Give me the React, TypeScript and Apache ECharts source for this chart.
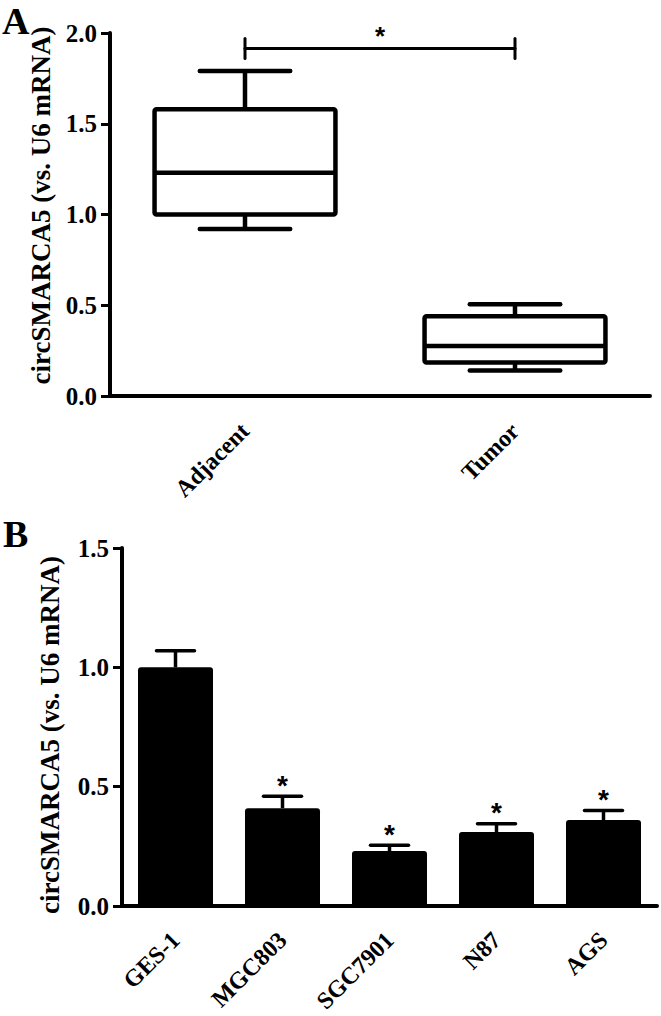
import React, { useEffect, useRef } from "react";
import * as echarts from "echarts";

// ---- Panel A data (box plot) ----
const boxCategories = ["Adjacent", "Tumor"];
const boxMin = [0.92, 0.14];
const boxQ1 = [1.0, 0.185];
const boxMedian = [1.23, 0.275];
const boxQ3 = [1.58, 0.44];
const boxMax = [1.79, 0.505];
const sigPair = [0, 1];
const sigLevel = 1.915;
const sigCapHalf = 0.055;
const yTicksA = { min: 0, max: 2, interval: 0.5 };

// ---- Panel B data (bar chart) ----
const cellLines = ["GES-1", "MGC803", "SGC7901", "N87", "AGS"];
const meanExpr = [1.0, 0.41, 0.23, 0.31, 0.36];
const errSem = [0.07, 0.05, 0.025, 0.035, 0.04];
const significant = [false, true, true, true, true];
const yTicksB = { min: 0, max: 1.5, interval: 0.5 };

const yTitle = "circSMARCA5 (vs. U6 mRNA)";
const SERIF = "Liberation Serif";

export default function App() {
  const ref = useRef<HTMLDivElement>(null);

  useEffect(() => {
    if (!ref.current) return;
    const chart = echarts.init(ref.current, null, { renderer: "svg" });

    const axisLineStyle = { color: "#000", width: 4 };
    const labelStyle = {
      color: "#000",
      fontFamily: SERIF,
      fontWeight: "bold" as const,
      fontSize: 24,
    };

    const boxData = boxCategories.map((_, i) => [
      i,
      boxMin[i],
      boxQ1[i],
      boxMedian[i],
      boxQ3[i],
      boxMax[i],
    ]);
    const errData = cellLines.map((_, i) => [
      i,
      meanExpr[i],
      meanExpr[i] + errSem[i],
      significant[i] ? 1 : 0,
    ]);

    const option: any = {
      animation: false,
      backgroundColor: "#fff",
      title: [
        {
          text: "A",
          left: 2,
          top: 2,
          padding: 0,
          textStyle: { fontFamily: SERIF, fontWeight: "bold", fontSize: 38, color: "#000" },
        },
        {
          text: "B",
          left: 3,
          top: 515,
          padding: 0,
          textStyle: { fontFamily: SERIF, fontWeight: "bold", fontSize: 38, color: "#000" },
        },
      ],
      grid: [
        { left: 110, top: 33, width: 540, height: 363 },
        { left: 122, top: 548, width: 535, height: 358 },
      ],
      xAxis: [
        {
          type: "category",
          gridIndex: 0,
          data: boxCategories,
          axisLine: { lineStyle: axisLineStyle },
          axisTick: { alignWithLabel: true, length: 10, lineStyle: { width: 3, color: "#000" } },
          axisLabel: { ...labelStyle, rotate: 45, interval: 0, margin: 31 },
        },
        {
          type: "category",
          gridIndex: 1,
          data: cellLines,
          axisLine: { lineStyle: axisLineStyle },
          axisTick: { alignWithLabel: true, length: 10, lineStyle: { width: 3, color: "#000" } },
          axisLabel: { ...labelStyle, rotate: 45, interval: 0, margin: 30 },
        },
      ],
      yAxis: [
        {
          type: "value",
          gridIndex: 0,
          ...yTicksA,
          name: yTitle,
          nameLocation: "middle",
          nameGap: 54,
          nameTextStyle: { ...labelStyle, fontSize: 27, padding: [0, 0, 0, 18] },
          axisLine: { show: true, lineStyle: axisLineStyle },
          axisTick: { show: true, length: 9, lineStyle: { width: 3, color: "#000" } },
          axisLabel: { ...labelStyle, fontSize: 25, margin: 13, formatter: (v: number) => v.toFixed(1) },
          splitLine: { show: false },
        },
        {
          type: "value",
          gridIndex: 1,
          ...yTicksB,
          name: yTitle,
          nameLocation: "middle",
          nameGap: 59,
          nameTextStyle: { ...labelStyle, fontSize: 27, padding: [0, 16, 0, 0] },
          axisLine: { show: true, lineStyle: axisLineStyle },
          axisTick: { show: true, length: 9, lineStyle: { width: 3, color: "#000" } },
          axisLabel: { ...labelStyle, fontSize: 25, margin: 13, formatter: (v: number) => v.toFixed(1) },
          splitLine: { show: false },
        },
      ],
      series: [
        {
          type: "custom",
          name: "box",
          xAxisIndex: 0,
          yAxisIndex: 0,
          data: boxData,
          encode: { x: 0, y: [1, 2, 3, 4, 5] },
          renderItem: (params: any, api: any) => {
            const idx = api.value(0);
            const band = api.size([1, 0])[0];
            const w = band * 0.67;
            const capW = w / 2;
            const pMin = api.coord([idx, api.value(1)]);
            const pQ1 = api.coord([idx, api.value(2)]);
            const pMed = api.coord([idx, api.value(3)]);
            const pQ3 = api.coord([idx, api.value(4)]);
            const pMax = api.coord([idx, api.value(5)]);
            const cx = pMed[0];
            const st = { stroke: "#000", lineWidth: 4.5, fill: "none", lineJoin: "round", lineCap: "butt" };
            return {
              type: "group",
              children: [
                {
                  type: "rect",
                  shape: { x: cx - w / 2, y: pQ3[1], width: w, height: pQ1[1] - pQ3[1], r: 2 },
                  style: st,
                },
                { type: "line", shape: { x1: cx - w / 2, y1: pMed[1], x2: cx + w / 2, y2: pMed[1] }, style: st },
                { type: "line", shape: { x1: cx, y1: pQ3[1], x2: cx, y2: pMax[1] }, style: st },
                { type: "line", shape: { x1: cx, y1: pQ1[1], x2: cx, y2: pMin[1] }, style: st },
                {
                  type: "line",
                  shape: { x1: cx - capW / 2, y1: pMax[1], x2: cx + capW / 2, y2: pMax[1] },
                  style: { ...st, lineCap: "round" },
                },
                {
                  type: "line",
                  shape: { x1: cx - capW / 2, y1: pMin[1], x2: cx + capW / 2, y2: pMin[1] },
                  style: { ...st, lineCap: "round" },
                },
              ],
            };
          },
        },
        {
          type: "custom",
          name: "significance",
          xAxisIndex: 0,
          yAxisIndex: 0,
          data: [[sigPair[0], sigPair[1], sigLevel]],
          encode: { x: [0, 1], y: 2 },
          renderItem: (params: any, api: any) => {
            const a = api.value(0);
            const b = api.value(1);
            const lv = api.value(2);
            const pA = api.coord([a, lv]);
            const pB = api.coord([b, lv]);
            const top = api.coord([a, lv + sigCapHalf])[1];
            const bot = api.coord([a, lv - sigCapHalf])[1];
            const st = { stroke: "#000", lineWidth: 3, lineCap: "round" };
            return {
              type: "group",
              children: [
                { type: "line", shape: { x1: pA[0], y1: pA[1], x2: pB[0], y2: pB[1] }, style: st },
                { type: "line", shape: { x1: pA[0], y1: top, x2: pA[0], y2: bot }, style: st },
                { type: "line", shape: { x1: pB[0], y1: top, x2: pB[0], y2: bot }, style: st },
                {
                  type: "text",
                  x: (pA[0] + pB[0]) / 2,
                  y: pA[1] + 1,
                  style: {
                    text: "*",
                    fill: "#000",
                    font: "bold 26px 'Liberation Sans'",
                    align: "center",
                    verticalAlign: "bottom",
                  },
                },
              ],
            };
          },
        },
        {
          type: "bar",
          name: "expression",
          xAxisIndex: 1,
          yAxisIndex: 1,
          data: meanExpr,
          barWidth: 75,
          itemStyle: { color: "#000", borderRadius: [3, 3, 0, 0] },
        },
        {
          type: "custom",
          name: "error",
          xAxisIndex: 1,
          yAxisIndex: 1,
          data: errData,
          encode: { x: 0, y: [1, 2] },
          z: 3,
          renderItem: (params: any, api: any) => {
            const idx = api.value(0);
            const pM = api.coord([idx, api.value(1)]);
            const pU = api.coord([idx, api.value(2)]);
            const capW = 38;
            const st = { stroke: "#000", lineWidth: 3.5, lineCap: "round" };
            const children: any[] = [
              { type: "line", shape: { x1: pM[0], y1: pM[1], x2: pU[0], y2: pU[1] }, style: { ...st, lineCap: "butt" } },
              { type: "line", shape: { x1: pU[0] - capW / 2, y1: pU[1], x2: pU[0] + capW / 2, y2: pU[1] }, style: st },
            ];
            if (api.value(3) === 1) {
              children.push({
                type: "text",
                x: pU[0],
                y: pU[1] + 3,
                style: {
                  text: "*",
                  fill: "#000",
                  font: "bold 28px 'Liberation Sans'",
                  align: "center",
                  verticalAlign: "bottom",
                },
              });
            }
            return { type: "group", children };
          },
        },
      ],
    };

    chart.setOption(option);
    return () => chart.dispose();
  }, []);

  return (
    <div
      ref={ref}
      style={{ position: "absolute", left: 0, top: 0, width: 661, height: 1016, background: "#fff" }}
    />
  );
}
